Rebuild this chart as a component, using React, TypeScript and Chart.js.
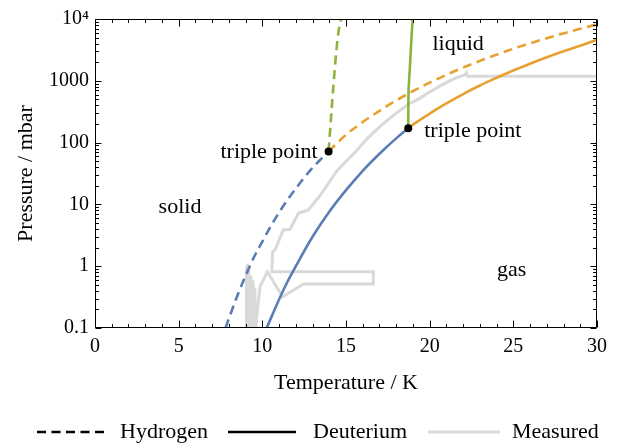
import React, { useEffect, useRef } from "react";
import { Chart, registerables } from "chart.js";

Chart.register(...registerables);

// ---------- data ----------
const h2SublT = [7.8, 8.5, 9, 9.5, 10, 10.5, 11, 11.5, 12, 12.5, 13, 13.5, 13.96];
const h2SublP = [0.1, 0.33, 0.7, 1.4, 2.5, 4.4, 7.4, 11.8, 18, 27, 39, 54, 72];

const h2VapT = [13.96, 15, 16, 17, 18, 19, 20, 21, 22, 23, 24, 25, 26, 27, 28, 29, 30];
const h2VapP = [72, 134, 215, 327, 480, 680, 935, 1250, 1640, 2100, 2650, 3300, 4050, 4900, 5850, 6950, 8200];

const h2MeltT = [13.96, 14.14, 14.34, 14.54, 14.76];
const h2MeltP = [72, 340, 1700, 5900, 11500];

const d2SublT = [10.26, 11, 11.5, 12, 13, 14, 15, 16, 17, 18, 18.72];
const d2SublP = [0.1, 0.29, 0.56, 1.0, 3.0, 7.6, 17, 35, 66, 117, 171];

const d2VapT = [18.72, 19, 20, 21, 22, 23, 24, 25, 26, 27, 28, 29, 30];
const d2VapP = [171, 195, 295, 430, 610, 840, 1120, 1470, 1890, 2400, 3000, 3700, 4600];

const d2MeltT = [18.72, 18.73, 18.76, 18.82, 18.93, 19.0];
const d2MeltP = [171, 490, 900, 1690, 5900, 11000];

const measuredT = [
  30, 22.4, 22.25, 22.2, 22.1, 21.6, 21.2, 20.6, 20.0, 19.4, 18.8, 18.0, 17.2, 16.3, 15.5, 14.5,
  13.5, 12.75, 12.15, 11.95, 11.65, 11.25, 10.76, 10.62, 10.56, 16.63, 16.63, 12.45, 11.22, 10.3,
  9.86, 9.66, 9.6, 9.55, 9.5, 9.44, 9.38, 9.32, 9.26, 9.2, 9.14, 9.1, 9.07, 9.05,
];
const measuredP = [
  1180, 1180, 1190, 1350, 1240, 1120, 1000, 820, 660, 520, 430, 300, 200, 118, 68, 36,
  14.5, 8.1, 7.2, 5.6, 3.95, 3.85, 1.83, 1.72, 0.81, 0.81, 0.515, 0.515, 0.32, 0.81,
  0.47, 0.15, 0.08, 0.45, 0.09, 0.6, 0.09, 0.7, 0.09, 0.85, 0.09, 1.1, 0.09, 1.0,
];

const triplePointT = [13.96, 18.72];
const triplePointP = [72, 171];

const xTickValues = [0, 5, 10, 15, 20, 25, 30];
const yTickValues = [0.1, 1, 10, 100, 1000, 10000];
const yTickLabels = ["0.1", "1", "10", "100", "1000", "10⁴"];

const regionNames = ["solid", "liquid", "gas"];
const regionT = [5.08, 21.7, 24.9];
const regionP = [9.1, 3940, 0.87];

const legendNames = ["Hydrogen", "Deuterium", "Measured"];

// ---------- styles ----------
const FONT = "'Liberation Serif', 'Times New Roman', serif";
const BLUE = "#5b7db6";
const ORANGE = "#e8a030";
const GREEN = "#8db33d";
const GRAY = "#d9d9d9";
const DASH = [9, 5.5];

const pts = (xs: number[], ys: number[]) => xs.map((x, i) => ({ x, y: ys[i] }));

const curve = (label: string, xs: number[], ys: number[], color: string, dashed: boolean) => ({
  label,
  data: pts(xs, ys),
  borderColor: color,
  borderWidth: 2.6,
  borderDash: dashed ? DASH : [],
  pointRadius: 0,
  fill: false,
  cubicInterpolationMode: "monotone" as const,
  clip: 0,
});

const framePlugin = {
  id: "frameTicks",
  afterDatasetsDraw(chart: any) {
    const { ctx, chartArea, scales } = chart;
    const { left, right, top, bottom } = chartArea;
    const x = scales.x;
    const y = scales.y;
    ctx.save();
    ctx.strokeStyle = "#000";
    ctx.lineWidth = 1;
    const L = Math.round(left) + 0.5;
    const R = Math.round(right) - 0.5;
    const T = Math.round(top) + 0.5;
    const B = Math.round(bottom) - 0.5;
    ctx.beginPath();
    ctx.rect(L, T, R - L, B - T);
    ctx.stroke();
    ctx.beginPath();
    for (let v = 0; v <= 30; v++) {
      const len = v % 5 === 0 ? 7 : 3.5;
      const px = Math.round(x.getPixelForValue(v)) + 0.5;
      ctx.moveTo(px, B);
      ctx.lineTo(px, B - len);
      ctx.moveTo(px, T);
      ctx.lineTo(px, T + len);
    }
    for (let e = -1; e <= 4; e++) {
      for (let k = 1; k <= 9; k++) {
        const v = k * Math.pow(10, e);
        if (v > 10000 * 1.0001) continue;
        const len = k === 1 ? 6 : 3.5;
        const py = Math.round(y.getPixelForValue(v)) + 0.5;
        ctx.moveTo(L, py);
        ctx.lineTo(L + len, py);
        ctx.moveTo(R, py);
        ctx.lineTo(R - len, py);
      }
    }
    ctx.stroke();

    // text annotations
    ctx.fillStyle = "#000";
    ctx.font = `22px ${FONT}`;
    ctx.textBaseline = "middle";
    ctx.textAlign = "center";
    regionNames.forEach((n, i) => {
      ctx.fillText(n, x.getPixelForValue(regionT[i]), y.getPixelForValue(regionP[i]));
    });
    const h2x = x.getPixelForValue(triplePointT[0]);
    const h2y = y.getPixelForValue(triplePointP[0]);
    ctx.textAlign = "right";
    ctx.fillText("triple point", h2x - 11, h2y + 1);
    const d2x = x.getPixelForValue(triplePointT[1]);
    const d2y = y.getPixelForValue(triplePointP[1]);
    ctx.textAlign = "left";
    ctx.fillText("triple point", d2x + 16, d2y + 3);
    ctx.restore();
  },
  afterDraw(chart: any) {
    const { ctx } = chart;
    ctx.save();
    const yy = 432;
    const items = [
      { x0: 37, x1: 104, tx: 120, color: "#000", dash: [9, 5.5], w: 2.6 },
      { x0: 228, x1: 296, tx: 313, color: "#000", dash: [], w: 2.6 },
      { x0: 428, x1: 500, tx: 512, color: GRAY, dash: [], w: 3 },
    ];
    items.forEach((it, i) => {
      ctx.beginPath();
      ctx.strokeStyle = it.color;
      ctx.lineWidth = it.w;
      ctx.setLineDash(it.dash);
      ctx.moveTo(it.x0, yy);
      ctx.lineTo(it.x1, yy);
      ctx.stroke();
      ctx.setLineDash([]);
      ctx.fillStyle = "#000";
      ctx.font = `22px ${FONT}`;
      ctx.textBaseline = "middle";
      ctx.textAlign = "left";
      ctx.fillText(legendNames[i], it.tx, yy);
    });
    ctx.restore();
  },
};

export default function App() {
  const ref = useRef<HTMLCanvasElement | null>(null);

  useEffect(() => {
    if (!ref.current) return;
    Chart.defaults.font.family = FONT;
    const chart = new Chart(ref.current, {
      type: "line",
      data: {
        datasets: [
          {
            label: "Triple points",
            data: pts(triplePointT, triplePointP),
            showLine: false,
            pointRadius: 4,
            pointBackgroundColor: "#000",
            pointBorderColor: "#000",
            pointBorderWidth: 0,
            clip: false,
          } as any,
          curve("H2 melting", h2MeltT, h2MeltP, GREEN, true),
          curve("D2 melting", d2MeltT, d2MeltP, GREEN, false),
          curve("H2 vaporization", h2VapT, h2VapP, ORANGE, true),
          curve("D2 vaporization", d2VapT, d2VapP, ORANGE, false),
          curve("H2 sublimation", h2SublT, h2SublP, BLUE, true),
          curve("D2 sublimation", d2SublT, d2SublP, BLUE, false),
          {
            label: "Measured",
            data: pts(measuredT, measuredP),
            borderColor: GRAY,
            borderWidth: 3,
            pointRadius: 0,
            tension: 0,
            fill: false,
            clip: 0,
          } as any,
        ],
      },
      options: {
        animation: false,
        responsive: false,
        devicePixelRatio: 1,
        parsing: false as any,
        layout: { padding: { left: 0, right: 21, top: 19, bottom: 44 } },
        plugins: {
          legend: { display: false },
          tooltip: { enabled: false },
        },
        scales: {
          x: {
            type: "linear",
            min: 0,
            max: 30,
            grid: { display: false, drawTicks: false },
            border: { display: false },
            afterBuildTicks: (s: any) => {
              s.ticks = xTickValues.map((v) => ({ value: v }));
            },
            ticks: {
              color: "#000",
              font: { size: 20, family: FONT, lineHeight: 1.2 },
              padding: 7,
              maxRotation: 0,
              autoSkip: false,
            },
            title: {
              display: true,
              text: "Temperature / K",
              color: "#000",
              font: { size: 22, family: FONT, lineHeight: 1.2 },
              padding: { top: 0, bottom: 4 },
            },
            afterFit: (s: any) => {
              s.height = 72;
            },
          },
          y: {
            type: "logarithmic",
            min: 0.1,
            max: 10000,
            grid: { display: false, drawTicks: false },
            border: { display: false },
            afterBuildTicks: (s: any) => {
              s.ticks = yTickValues.map((v) => ({ value: v }));
            },
            ticks: {
              color: "#000",
              font: { size: 20, family: FONT, lineHeight: 1.2 },
              padding: 6,
              autoSkip: false,
              callback: (_v: any, i: number) => yTickLabels[i],
            },
            title: {
              display: true,
              text: "Pressure / mbar",
              color: "#000",
              font: { size: 22, family: FONT, lineHeight: 1.2 },
              padding: { top: 13, bottom: 0 },
            },
            afterFit: (s: any) => {
              s.width = 95;
            },
          },
        },
      },
      plugins: [framePlugin],
    });
    return () => chart.destroy();
  }, []);

  return (
    <div style={{ position: "fixed", left: 0, top: 0, width: 618, height: 444, background: "#fff" }}>
      <canvas ref={ref} width={618} height={444} style={{ display: "block" }} />
    </div>
  );
}
